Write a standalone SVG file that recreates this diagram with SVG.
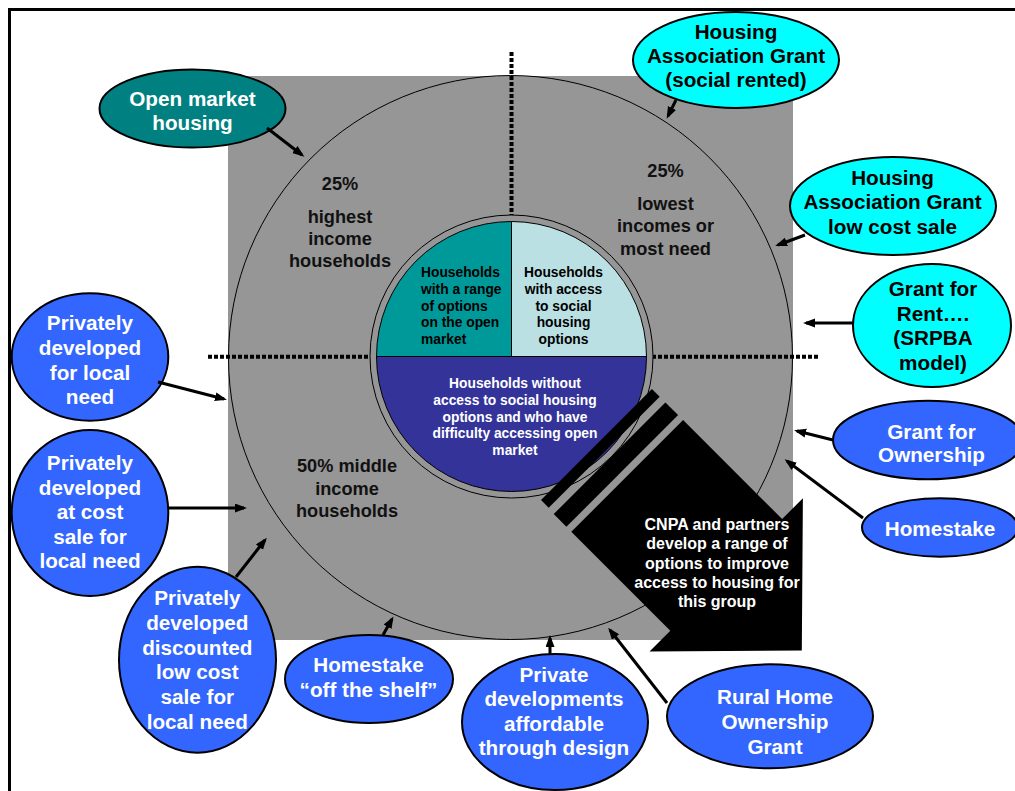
<svg xmlns="http://www.w3.org/2000/svg" width="1015" height="791" viewBox="0 0 1015 791">
  <defs>
    <marker id="head" markerUnits="userSpaceOnUse" markerWidth="12" markerHeight="10" refX="9" refY="4.5" orient="auto">
      <path d="M0,0 L12,4.5 L0,9 z" fill="#000"/>
    </marker>
    <style>
      text { font-family: "Liberation Sans", Arial, sans-serif; font-weight: bold; }
      .node { stroke: #000; stroke-width: 2; }
      .teal { fill: #008080; }
      .cyan { fill: #00FFFF; }
      .blue { fill: #3366FF; }
      .lbl { font-size: 20.7px; text-anchor: middle; }
      .wt { fill: #fff; }
      .bk { fill: #000; }
      .band { font-size: 18.2px; text-anchor: middle; fill: #111; }
      .pie { font-size: 13.8px; }
      .conn line { stroke: #000; stroke-width: 3; marker-end: url(#head); }
      .dots { stroke: #000; stroke-width: 4; stroke-dasharray: 4 2; fill: none; }
    </style>
  </defs>

  <!-- page frame -->
  <rect x="9.5" y="9.5" width="1020" height="800" fill="#fff" stroke="#000" stroke-width="3"/>

  <!-- income bands: grey square and outer circle -->
  <g id="bands">
    <rect x="228" y="76" width="565" height="564" fill="#969696"/>
    <line class="dots" x1="511.5" y1="52" x2="511.5" y2="222"/>
    <line class="dots" x1="208" y1="356.7" x2="818" y2="356.7"/>
    <circle cx="510.5" cy="357.5" r="282" fill="none" stroke="#000" stroke-width="1"/>
    <text class="band"><tspan x="340" y="190">25%</tspan><tspan x="340" y="223">highest</tspan><tspan x="340" y="245">income</tspan><tspan x="340" y="267">households</tspan></text>
    <text class="band"><tspan x="665.5" y="177">25%</tspan><tspan x="665.5" y="209.5">lowest</tspan><tspan x="665.5" y="232">incomes or</tspan><tspan x="665.5" y="254.5">most need</tspan></text>
    <text class="band"><tspan x="347" y="472">50% middle</tspan><tspan x="347" y="494.5">income</tspan><tspan x="347" y="516.5">households</tspan></text>
  </g>

  <!-- household groups pie -->
  <g id="pie">
    <circle cx="511.5" cy="356.5" r="141.5" fill="#969696" stroke="#000" stroke-width="1"/>
    <path d="M511.5,356.5 L376.5,356.5 A135,135 0 0,1 511.5,221.5 Z" fill="#009999" stroke="#000" stroke-width="1"/>
    <path d="M511.5,356.5 L511.5,221.5 A135,135 0 0,1 646.5,356.5 Z" fill="#BBE0E3" stroke="#000" stroke-width="1"/>
    <path d="M376.5,356.5 A135,135 0 0,0 646.5,356.5 Z" fill="#333399" stroke="#000" stroke-width="1"/>
    <text class="pie bk"><tspan x="421" y="277">Households</tspan><tspan x="421" y="294">with a range</tspan><tspan x="421" y="310.5">of options</tspan><tspan x="421" y="327">on the open</tspan><tspan x="421" y="343.5">market</tspan></text>
    <text class="pie bk" text-anchor="middle"><tspan x="563.5" y="277">Households</tspan><tspan x="563.5" y="294">with access</tspan><tspan x="563.5" y="310.5">to social</tspan><tspan x="563.5" y="327">housing</tspan><tspan x="563.5" y="343.5">options</tspan></text>
    <text class="pie wt" text-anchor="middle"><tspan x="515" y="388">Households without</tspan><tspan x="515" y="405">access to social housing</tspan><tspan x="515" y="421.5">options and who have</tspan><tspan x="515" y="438">difficulty accessing open</tspan><tspan x="515" y="455">market</tspan></text>
  </g>

  <!-- block arrow: CNPA and partners -->
  <g id="cnpa">
    <polygon points="541,499.9 651.9,389 659.7,396.8 548.7,507.7" fill="#000"/>
    <polygon points="553.7,514.1 665.4,402.4 678.1,415.1 566.4,526.8" fill="#000"/>
    <polygon points="571.3,531.8 683.1,420.1 782.1,519 802.9,498.2 801.8,650.6 649.5,651.6 670.3,630.7" fill="#000"/>
    <text font-size="16px" text-anchor="middle" class="wt"><tspan x="717" y="530">CNPA and partners</tspan><tspan x="717" y="549.3">develop a range of</tspan><tspan x="717" y="568.6">options to improve</tspan><tspan x="717" y="587.9">access to housing for</tspan><tspan x="717" y="607.2">this group</tspan></text>
  </g>

  <!-- funding / delivery routes -->
  <g id="open-market">
    <ellipse class="node teal" cx="192.5" cy="108.5" rx="93" ry="39"/>
    <text class="lbl wt"><tspan x="192.5" y="105.5">Open market</tspan><tspan x="192.5" y="130">housing</tspan></text>
  </g>
  <g id="hag-social">
    <ellipse class="node cyan" cx="736" cy="60" rx="103" ry="48"/>
    <text class="lbl bk"><tspan x="736" y="38.5">Housing</tspan><tspan x="736" y="62.8">Association Grant</tspan><tspan x="736" y="87">(social rented)</tspan></text>
  </g>
  <g id="hag-lcs">
    <ellipse class="node cyan" cx="893" cy="206" rx="103" ry="49"/>
    <text class="lbl bk"><tspan x="892.5" y="184.5">Housing</tspan><tspan x="892.5" y="209">Association Grant</tspan><tspan x="892.5" y="233.5">low cost sale</tspan></text>
  </g>
  <g id="grant-rent">
    <ellipse class="node cyan" cx="932" cy="325.5" rx="79" ry="61.5"/>
    <text class="lbl bk"><tspan x="933" y="296">Grant for</tspan><tspan x="933" y="320.5">Rent….</tspan><tspan x="933" y="345">(SRPBA</tspan><tspan x="933" y="369.5">model)</tspan></text>
  </g>
  <g id="grant-ownership">
    <ellipse class="node blue" cx="928" cy="440" rx="95" ry="39.3"/>
    <text class="lbl wt"><tspan x="931.5" y="438.5">Grant for</tspan><tspan x="931.5" y="462">Ownership</tspan></text>
  </g>
  <g id="homestake">
    <ellipse class="node blue" cx="940" cy="527.5" rx="78" ry="29.2"/>
    <text class="lbl wt" x="940" y="535.5">Homestake</text>
  </g>
  <g id="rhog">
    <ellipse class="node blue" cx="770" cy="716.3" rx="103" ry="52"/>
    <text class="lbl wt"><tspan x="775" y="704">Rural Home</tspan><tspan x="775" y="729">Ownership</tspan><tspan x="775" y="754">Grant</tspan></text>
  </g>
  <g id="private-design">
    <ellipse class="node blue" cx="555" cy="722" rx="93" ry="68"/>
    <text class="lbl wt"><tspan x="554" y="681.7">Private</tspan><tspan x="554" y="706.2">developments</tspan><tspan x="554" y="730.7">affordable</tspan><tspan x="554" y="755.2">through design</tspan></text>
  </g>
  <g id="homestake-shelf">
    <ellipse class="node blue" cx="369" cy="679" rx="84" ry="44"/>
    <text class="lbl wt"><tspan x="368.5" y="672.3">Homestake</tspan><tspan x="368.5" y="696.8">“off the shelf”</tspan></text>
  </g>
  <g id="private-discounted">
    <ellipse class="node blue" cx="197.5" cy="659.7" rx="78.5" ry="93"/>
    <text class="lbl wt"><tspan x="197.3" y="605">Privately</tspan><tspan x="197.3" y="629.8">developed</tspan><tspan x="197.3" y="654.6">discounted</tspan><tspan x="197.3" y="679.4">low cost</tspan><tspan x="197.3" y="704.2">sale for</tspan><tspan x="197.3" y="729">local need</tspan></text>
  </g>
  <g id="private-at-cost">
    <ellipse class="node blue" cx="90" cy="513" rx="78.3" ry="83"/>
    <text class="lbl wt"><tspan x="90" y="470">Privately</tspan><tspan x="90" y="494.6">developed</tspan><tspan x="90" y="519.2">at cost</tspan><tspan x="90" y="543.8">sale for</tspan><tspan x="90" y="568.4">local need</tspan></text>
  </g>
  <g id="private-local">
    <ellipse class="node blue" cx="90" cy="357" rx="78.3" ry="63.7"/>
    <text class="lbl wt"><tspan x="90" y="330">Privately</tspan><tspan x="90" y="354.8">developed</tspan><tspan x="90" y="379.6">for local</tspan><tspan x="90" y="404.4">need</tspan></text>
  </g>

  <!-- connectors -->
  <g id="connectors" class="conn">
    <line x1="267" y1="128" x2="302" y2="155"/>
    <line x1="676" y1="100" x2="668" y2="116"/>
    <line x1="805" y1="235" x2="778" y2="245"/>
    <line x1="853" y1="323" x2="806" y2="323"/>
    <line x1="833" y1="440" x2="797" y2="431"/>
    <line x1="863" y1="518" x2="787" y2="461"/>
    <line x1="667" y1="703" x2="610" y2="630"/>
    <line x1="550" y1="654" x2="550" y2="638"/>
    <line x1="383" y1="635" x2="392" y2="619"/>
    <line x1="236" y1="577" x2="265" y2="540"/>
    <line x1="168" y1="508" x2="244" y2="508"/>
    <line x1="158" y1="382" x2="224" y2="399"/>
  </g>
</svg>
